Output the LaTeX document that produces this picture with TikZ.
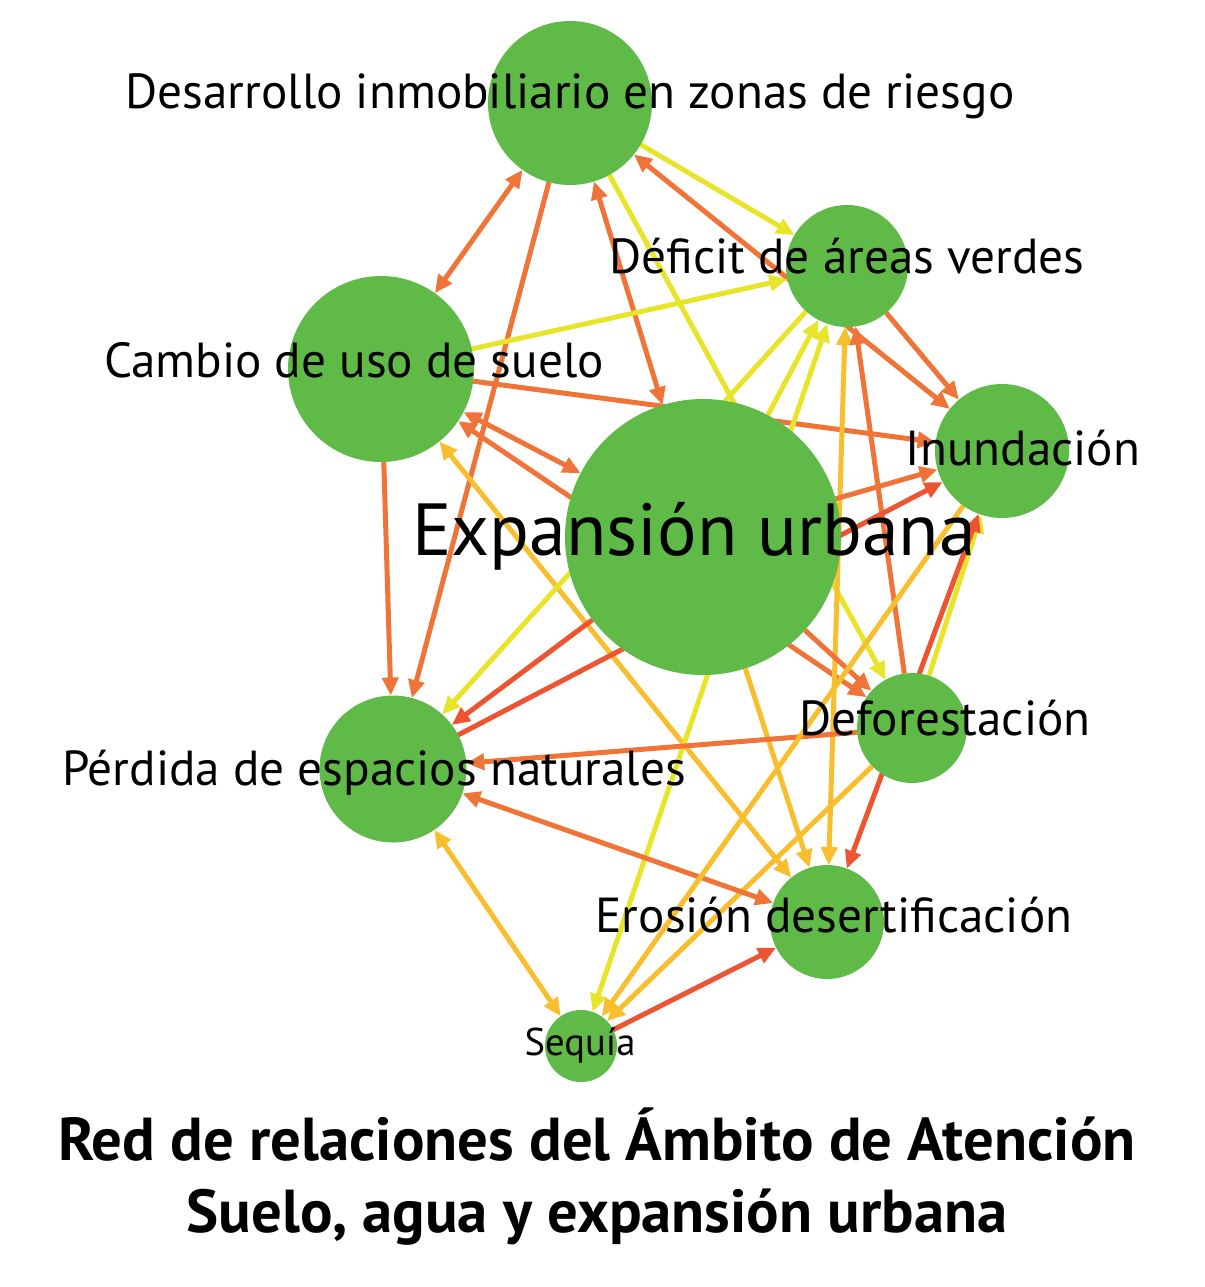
\documentclass[tikz,border=0pt]{standalone}
\usepackage{fontspec}
\setmainfont{PT Sans}
\usetikzlibrary{positioning, arrows.meta, backgrounds}
\definecolor{nodegreen}{RGB}{96,186,72}
\definecolor{eorange}{RGB}{240,115,55}
\definecolor{eyellow}{RGB}{232,228,42}
\definecolor{eamber}{RGB}{248,190,45}
\definecolor{ered}{RGB}{236,84,50}
\tikzset{
  vtx/.style    = {circle, fill=nodegreen, inner sep=0pt, outer sep=0pt},
  lbl/.style    = {anchor=base, inner sep=0pt, font=\fontsize{28}{32}\selectfont},
  biglbl/.style = {lbl, font=\fontsize{42}{46}\selectfont},
  smalllbl/.style = {lbl, font=\fontsize{22}{25}\selectfont},
  ttl/.style    = {anchor=base, inner sep=0pt, font=\fontsize{34.5}{38}\selectfont\bfseries},
  rel/.style    = {line width=1mm, -{Triangle[length=3.6mm, width=3.2mm]}},
  mutual/.style = {line width=1mm, {Triangle[length=3.6mm, width=3.2mm]}-{Triangle[length=3.6mm, width=3.2mm]}},
}

\begin{document}
\begin{tikzpicture}[x=0.2mm, y=-0.2mm]
  \useasboundingbox (0,0) rectangle (1205,1287);

  % nodes
  \node[vtx, minimum size=32.8mm] at ( 570,  103) (desarrollo) {};
  \node[vtx, minimum size=24.4mm] at ( 847,  266) (deficit)    {};
  \node[vtx, minimum size=37.2mm] at ( 381,  369) (cambio)     {};
  \node[vtx, minimum size=26.8mm] at (1002,  451) (inundacion) {};
  \node[vtx, minimum size=55.2mm] at ( 703,  537) (expansion)  {};
  \node[vtx, minimum size=22mm]   at ( 912,  728) (deforest)   {};
  \node[vtx, minimum size=29.4mm] at ( 393,  769) (perdida)    {};
  \node[vtx, minimum size=22.8mm] at ( 827,  922) (erosion)    {};
  \node[vtx, minimum size=14.4mm] at ( 581, 1046) (sequia)     {};

  % labels
  \node[lbl]      at ( 570,  108) (desarrolloT) {Desarrollo inmobiliario en zonas de riesgo};
  \node[lbl]      at ( 847,  273) (deficitT)    {Déficit de áreas verdes};
  \node[lbl]      at ( 354,  377) (cambioT)     {Cambio de uso de suelo};
  \node[lbl]      at (1023,  465) (inundacionT) {Inundación};
  \node[biglbl]   at ( 694,  555) (expansionT)  {Expansión urbana};
  \node[lbl]      at ( 945,  735) (deforestT)   {Deforestación};
  \node[lbl]      at ( 374,  785) (perdidaT)    {Pérdida de espacios naturales};
  \node[lbl]      at ( 834,  932) (erosionT)    {Erosión desertificación};
  \node[smalllbl] at ( 580, 1055) (sequiaT)     {Sequía};

  \node[ttl] at (597, 1160) (titulo1) {Red de relaciones del Ámbito de Atención};
  \node[ttl] at (597, 1232) (titulo2) {Suelo, agua y expansión urbana};

  % relations
  \begin{scope}[on background layer]
    \draw[mutual, eorange] (desarrollo) -- (cambio);
    \draw[rel,    eorange] (desarrollo) -- (perdida);
    \draw[mutual, eorange] (desarrollo) -- (expansion);
    \draw[mutual, eorange] (desarrollo) -- (inundacion);
    \draw[rel,    eyellow] (desarrollo) -- (deficit);
    \draw[rel,    eyellow] (desarrollo) -- (deforest);

    \draw[rel,    eyellow] (cambio) -- (deficit);
    \draw[rel,    eorange] (cambio) -- (inundacion);
    \draw[mutual, eorange] (cambio) -- (expansion);
    \draw[mutual, eorange] (cambio) -- (deforest);
    \draw[rel,    eorange] (cambio) -- (perdida);
    \draw[mutual, eamber]  (cambio) -- (erosion);

    \draw[rel,    eyellow] (deficit) -- (perdida);
    \draw[mutual, eyellow] (deficit) -- (sequia);
    \draw[mutual, eamber]  (deficit) -- (erosion);
    \draw[rel,    eorange] (deficit) -- (inundacion);

    \draw[rel,    eyellow] (expansion) -- (deficit);
    \draw[rel,    eorange] (expansion) -- (inundacion);
    \draw[rel,    eorange] (expansion) -- (deforest);
    \draw[rel,    eamber]  (expansion) -- (erosion);
    \draw[rel,    ered]    (expansion) -- (perdida);

    \draw[rel,    eorange] (deforest) -- (deficit);
    \draw[rel,    eyellow] (deforest) -- (inundacion);
    \draw[rel,    eorange] (deforest) -- (perdida);
    \draw[rel,    eamber]  (deforest) -- (sequia);

    \draw[rel,    ered]    (perdida) -- (inundacion);
    \draw[mutual, eorange] (perdida) -- (erosion);
    \draw[mutual, eamber]  (perdida) -- (sequia);

    \draw[mutual, ered]    (inundacion) -- (erosion);
    \draw[rel,    eamber]  (inundacion) -- (sequia);
    \draw[rel,    ered]    (sequia) -- (erosion);
  \end{scope}
\end{tikzpicture}
\end{document}
